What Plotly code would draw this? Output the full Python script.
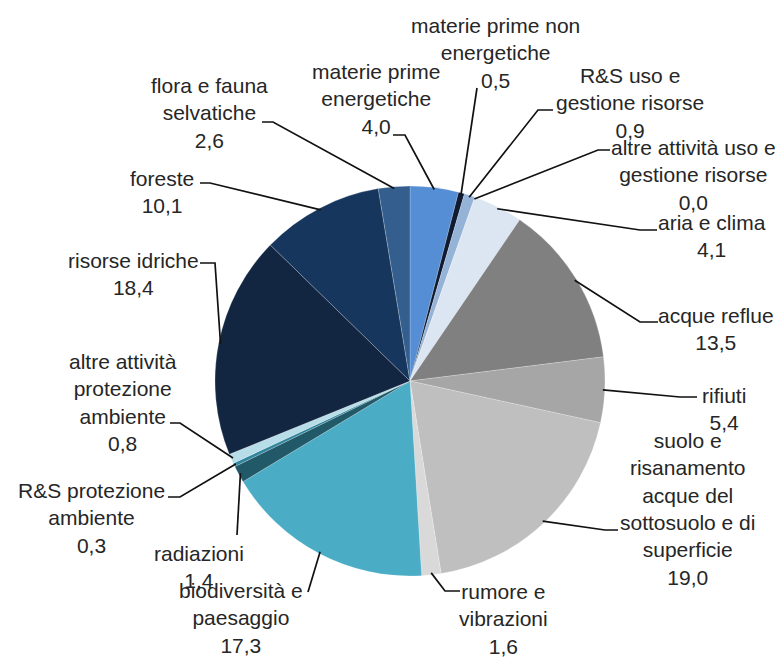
import math
import plotly.graph_objects as go

# ---- data ----
categories = [
    "materie prime energetiche", "materie prime non energetiche",
    "R&S uso e gestione risorse", "altre attività uso e gestione risorse",
    "aria e clima", "acque reflue", "rifiuti",
    "suolo e risanamento acque del sottosuolo e di superficie",
    "rumore e vibrazioni", "biodiversità e paesaggio", "radiazioni",
    "R&S protezione ambiente", "altre attività protezione ambiente",
    "risorse idriche", "foreste", "flora e fauna selvatiche",
]
values = [4.0, 0.5, 0.9, 0.0, 4.1, 13.5, 5.4, 19.0, 1.6, 17.3, 1.4, 0.3, 0.8, 18.4, 10.1, 2.6]
label_lines = [
    ["materie prime", "energetiche"],
    ["materie prime non", "energetiche"],
    ["R&S uso e", "gestione risorse"],
    ["altre attività uso e", "gestione risorse"],
    ["aria e clima"],
    ["acque reflue"],
    ["rifiuti"],
    ["suolo e", "risanamento", "acque del", "sottosuolo e di", "superficie"],
    ["rumore e", "vibrazioni"],
    ["biodiversità e", "paesaggio"],
    ["radiazioni"],
    ["R&S protezione", "ambiente"],
    ["altre attività", "protezione", "ambiente"],
    ["risorse idriche"],
    ["foreste"],
    ["flora e fauna", "selvatiche"],
]
colors = [
    "#558ED5", "#0E1B33", "#95B3D7", "#B9CDE5", "#DCE6F2", "#808080", "#A6A6A6",
    "#BFBFBF", "#D9D9D9", "#4BACC6", "#215968", "#31859C", "#B7DEE8",
    "#132641", "#17365D", "#335E8E",
]

# ---- layout (pixels in the 783x658 window; page body has an 8px margin) ----
OFF = 8
W, H = 783 - OFF, 658 - OFF
CX, CY, R = 410, 381, 195
# label block: centre x, first line y
label_pos = [
    (376, 72), (495, 25), (630, 75), (693, 147), (712, 222), (716, 315),
    (724, 395), (687, 440), (503, 591), (241, 590), (199, 553), (91, 490),
    (123, 361), (133, 260), (162, 178), (209, 86),
]
# leader: tail (near text), elbow
leaders = [
    ((393, 135), (405, 135)), ((477, 88), (477, 88)), ((553, 110), (538, 110)),
    ((610, 150), (598, 150)), ((657, 230), (640, 230)), ((658, 322), (640, 322)),
    ((697, 397), (680, 397)), ((618, 530), (605, 530)), ((460, 591), (445, 591)),
    ((308, 592), (308, 592)), ((237, 535), (237, 535)), ((168, 497), (180, 497)),
    ((170, 423), (180, 423)), ((200, 263), (215, 263)), ((200, 183), (210, 183)),
    ((262, 122), (273, 122)),
]
LINE = 27.5

def px(x):
    return (x - OFF) / W

def py(y):
    return 1 - (y - OFF) / H

fig = go.Figure(go.Pie(
    labels=categories, values=values, sort=False, direction="clockwise",
    rotation=0, marker=dict(colors=colors, line=dict(color="rgba(255,255,255,0.35)", width=0.6)),
    textinfo="none", hoverinfo="label+value", showlegend=False,
    domain=dict(x=[px(CX - R), px(CX + R)], y=[py(CY + R), py(CY - R)]),
))

total = sum(values)
cum = 0.0
annotations = []
shapes = []
for i, v in enumerate(values):
    mid = (cum + v / 2) / total * 2 * math.pi
    cum += v
    ex = CX + R * 0.99 * math.sin(mid)
    ey = CY - R * 0.99 * math.cos(mid)
    (tx, ty), (bx, by) = leaders[i]
    path = f"M {px(tx)} {py(ty)} L {px(bx)} {py(by)} L {px(ex)} {py(ey)}"
    shapes.append(dict(type="path", xref="paper", yref="paper", path=path,
                       line=dict(color="#111111", width=1.7)))
    lines = label_lines[i] + [f"{v:.1f}".replace(".", ",")]
    cx, y1 = label_pos[i]
    yc = y1 + (len(lines) - 1) * LINE / 2
    annotations.append(dict(
        x=px(cx), y=py(yc), xref="paper", yref="paper", xanchor="center",
        yanchor="middle", showarrow=False, align="center",
        text="<br>".join(lines),
        font=dict(family="Liberation Sans, Arial, sans-serif", size=21, color="#262626"),
    ))

fig.update_layout(
    width=W, height=H, margin=dict(l=0, r=0, t=0, b=0),
    paper_bgcolor="white", plot_bgcolor="white",
    annotations=annotations, shapes=shapes,
)
fig.write_html("out.html")
